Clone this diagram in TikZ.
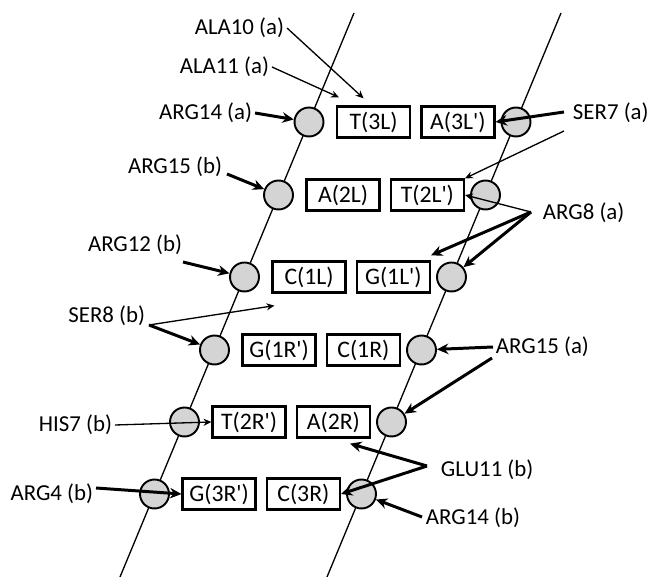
\documentclass[tikz,border=0pt]{standalone}
\usepackage{fontspec}
\setmainfont{Carlito}
\usetikzlibrary{arrows.meta, positioning}
\newcommand{\pr}{\textquotesingle}
\tikzstyle{strand} = [line width=0.75pt]
\tikzstyle{thinarrow} = [line width=0.75pt,-{Stealth[length=4.5pt,width=4pt]}]
\tikzstyle{thickarrow} = [line width=1.7pt,-{Stealth[length=6.5pt,width=6pt]}]
\tikzstyle{base} = [
rectangle, draw=black, line width=1.3pt, minimum width=1.46cm, minimum height=0.62cm,
inner sep=0pt, text centered, font=\fontsize{13.5}{15}\selectfont
]
\tikzstyle{residue} = [
circle, draw=black, line width=1.1pt, fill=black!17, minimum size=0.58cm, inner sep=0pt
]
\tikzstyle{resname} = [inner sep=1.5pt, font=\fontsize{13}{15}\selectfont]

\begin{document}
\begin{tikzpicture}[x=0.02cm, y=-0.02cm]
			\useasboundingbox (0,0) rectangle (650,577);

			% Strands
			\coordinate (Ltop) at (354,13);
			\coordinate (Lbot) at (120,577);
			\coordinate (Rtop) at (561,13);
			\coordinate (Rbot) at (327,577);
			\draw [strand] (Ltop) -- (Lbot);
			\draw [strand] (Rtop) -- (Rbot);

			% Phosphate circles
			\node (cL1) [residue] at (309,122) {};
			\node (cL2) [residue] at (278.5,195) {};
			\node (cL3) [residue] at (244.5,277) {};
			\node (cL4) [residue] at (214.5,350) {};
			\node (cL5) [residue] at (184.5,422) {};
			\node (cL6) [residue] at (154.5,494) {};
			\node (cR1) [residue] at (516,122) {};
			\node (cR2) [residue] at (485.5,195) {};
			\node (cR3) [residue] at (451.5,277) {};
			\node (cR4) [residue] at (421.5,350) {};
			\node (cR5) [residue] at (391.5,422) {};
			\node (cR6) [residue] at (361.5,494) {};

			% Base pairs
			\node (t3L) [base, right=0.23cm of cL1] {T(3L)};
			\node (a3Lp) [base, right=0.18cm of t3L] {A(3L\pr)};
			\node (a2L) [base, right=0.23cm of cL2] {A(2L)};
			\node (t2Lp) [base, right=0.18cm of a2L] {T(2L\pr)};
			\node (c1L) [base, right=0.23cm of cL3] {C(1L)};
			\node (g1Lp) [base, right=0.18cm of c1L] {G(1L\pr)};
			\node (g1Rp) [base, right=0.23cm of cL4] {G(1R\pr)};
			\node (c1R) [base, right=0.18cm of g1Rp] {C(1R)};
			\node (t2Rp) [base, right=0.23cm of cL5] {T(2R\pr)};
			\node (a2R) [base, right=0.18cm of t2Rp] {A(2R)};
			\node (g3Rp) [base, right=0.23cm of cL6] {G(3R\pr)};
			\node (c3R) [base, right=0.18cm of g3Rp] {C(3R)};

			% Residue names
			\node (ala10) [resname, anchor=east] at (287,28) {ALA10 (a)};
			\node (ala11) [resname, anchor=east] at (272,67) {ALA11 (a)};
			\node (arg14a) [resname, anchor=east] at (255,113) {ARG14 (a)};
			\node (arg15b) [resname, anchor=east] at (225,167) {ARG15 (b)};
			\node (arg12b) [resname, anchor=east] at (185,245) {ARG12 (b)};
			\node (ser8b) [resname, anchor=east] at (148,316) {SER8 (b)};
			\node (his7b) [resname, anchor=east] at (115,425) {HIS7 (b)};
			\node (arg4b) [resname, anchor=east] at (96,494) {ARG4 (b)};
			\node (ser7a) [resname, anchor=west] at (570,113) {SER7 (a)};
			\node (arg8a) [resname, anchor=west] at (540,213) {ARG8 (a)};
			\node (arg15a) [resname, anchor=west] at (493,347) {ARG15 (a)};
			\node (glu11b) [resname, anchor=west] at (438,470) {GLU11 (b)};
			\node (arg14b) [resname, anchor=west] at (423,518) {ARG14 (b)};

			% Contacts
			\draw [thinarrow] (ala10.east) -- ([shift={(-10,-7)}]t3L.north);
			\draw [thinarrow] (ala11.east) -- ([shift={(3,-8)}]t3L.north west);
			\draw [thickarrow] (arg14a.east) -- (cL1);
			\draw [thickarrow] ([shift={(2,7)}]arg15b.east) -- (cL2);
			\draw [thickarrow] ([shift={(-2,17)}]arg12b.east) -- (cL3);
			\draw [thickarrow] ([shift={(1,9)}]ser8b.east) -- (cL4);
			\draw [thinarrow] ([shift={(1,9)}]ser8b.east) -- ([shift={(3,12)}]c1L.south west);
			\draw [thinarrow] (his7b.east) -- (t2Rp.west);
			\draw [thickarrow] ([shift={(0,-6)}]arg4b.east) -- (g3Rp.west);
			\draw [thickarrow] ([shift={(-6,-1)}]ser7a.west) -- (a3Lp.east);
			\draw [thinarrow] ([shift={(-6,18)}]ser7a.west) -- (t2Lp.north east);
			\draw [thinarrow] ([shift={(-9,-1)}]arg8a.west) -- (t2Lp.east);
			\draw [thickarrow] ([shift={(-9,-1)}]arg8a.west) -- ([shift={(0,-5)}]g1Lp.north east);
			\draw [thickarrow] ([shift={(-9,-1)}]arg8a.west) -- (cR3);
			\draw [thickarrow] (arg15a.west) -- (cR4);
			\draw [thickarrow] ([shift={(-1,11)}]arg15a.west) -- (cR5);
			\draw [thickarrow] ([shift={(-11,-4)}]glu11b.west) -- ([shift={(-21,5)}]a2R.south east);
			\draw [thickarrow] ([shift={(-11,-4)}]glu11b.west) -- (c3R.east);
			\draw [thickarrow] ([shift={(-1,-1)}]arg14b.west) -- (cR6);

		\end{tikzpicture}
\end{document}
